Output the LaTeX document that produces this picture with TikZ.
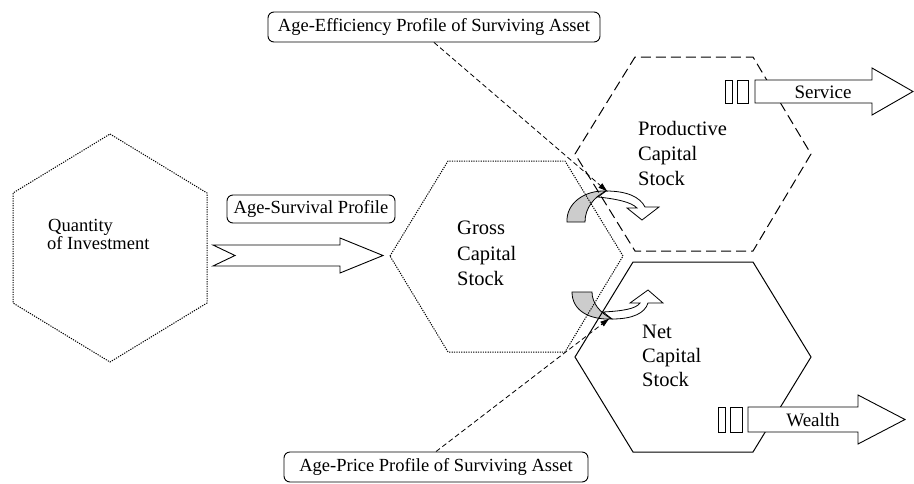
\documentclass[tikz,border=0pt]{standalone}
\usepackage{fontspec}
\setmainfont{Liberation Serif}
\usetikzlibrary{arrows.meta}
\begin{document}
\begin{tikzpicture}[x=1pt,y=-1pt,
  hexdot/.style={line width=1pt, dash pattern=on 1.2pt off 1.2pt},
  hexdash/.style={line width=1pt, dash pattern=on 10pt off 5pt},
  hexsolid/.style={line width=1pt},
  hexlabel/.style={font=\fontsize{20.5}{25}\selectfont, inner sep=0pt, anchor=base west},
  qlabel/.style={font=\fontsize{18.5}{15}\selectfont, inner sep=0pt, anchor=base west},
  profbox/.style={draw, rounded corners=6pt, line width=0.9pt, font=\fontsize{18.5}{20}\selectfont, inner sep=0pt},
  leader/.style={line width=0.8pt, dash pattern=on 5pt off 3pt, -{Latex[length=10pt,width=6pt]}},
  blockarrow/.style={draw, fill=white, line width=0.9pt},
  arrowtext/.style={font=\fontsize{19}{20}\selectfont, inner sep=0pt},
  backface/.style={draw, fill=gray!40, line width=0.8pt},
  frontface/.style={draw, fill=white, line width=0.8pt},
]
\useasboundingbox (0,0) rectangle (914,483);

% curved arrows (drawn first, under the hexagon edges)
\filldraw[frontface] (606,191) .. controls (627,191) and (640,197) .. (645,207)
  -- (659,207) -- (642,220) -- (627,208) -- (637,208)
  .. controls (631,202) and (617,199) .. (598,197) -- cycle;
\filldraw[backface] (567,222) .. controls (566,203) and (585,190) .. (606,191)
  .. controls (594,197) and (585,208) .. (585,222) -- cycle;

\filldraw[frontface] (612,319) .. controls (633,319) and (645,313) .. (648,303)
  -- (663,303) -- (648,290) -- (630,303) -- (640,303)
  .. controls (636,309) and (622,311) .. (603,312) -- cycle;
\filldraw[backface] (572,292) .. controls (572,311) and (590,320) .. (612,319)
  .. controls (600,313) and (592,303) .. (592,292) -- cycle;

% hexagons
\draw[hexdot] (110,134) -- (207,193) -- (207,303) -- (110,362) -- (13,303) -- (13,193) -- cycle;
\draw[hexdot] (390,256) -- (448,161) -- (565,161) -- (623,256) -- (565,352) -- (448,352) -- cycle;
\draw[hexdash] (575,154) -- (635,57) -- (753,57) -- (811,154) -- (753,251) -- (635,251) -- cycle;
\draw[hexsolid] (575,357) -- (633,262) -- (753,262) -- (811,357) -- (753,452) -- (633,452) -- cycle;

% hexagon labels
\node[qlabel] (q1) at (48,231) {Quantity};
\node[qlabel] (q2) at (47,249) {of Investment};
\node[hexlabel] (g1) at (457,234) {Gross};
\node[hexlabel] (g2) at (457,260) {Capital};
\node[hexlabel] (g3) at (457,285) {Stock};
\node[hexlabel] (p1) at (638,135) {Productive};
\node[hexlabel] (p2) at (638,160) {Capital};
\node[hexlabel] (p3) at (638,185) {Stock};
\node[hexlabel] (n1) at (642,338) {Net};
\node[hexlabel] (n2) at (642,362) {Capital};
\node[hexlabel] (n3) at (642,386) {Stock};

% Age-Survival block arrow
\draw[blockarrow] (213,245) -- (340,245) -- (340,238) -- (383,255.5) -- (340,273)
  -- (340,266) -- (213,266) -- (235,255.5) -- cycle;

% Service arrow
\draw[blockarrow] (725,80) rectangle (732,103);
\draw[blockarrow] (737,80) rectangle (748,103);
\draw[blockarrow] (755,80) -- (872,80) -- (872,68) -- (913,91.5) -- (872,115) -- (872,103) -- (755,103) -- cycle;
\node[arrowtext] (service) at (823,92) {Service};

% Wealth arrow
\draw[blockarrow] (718,407) rectangle (725,432);
\draw[blockarrow] (730,407) rectangle (742,432);
\draw[blockarrow] (748,407) -- (858,407) -- (858,395) -- (905,419.5) -- (858,444) -- (858,432) -- (748,432) -- cycle;
\node[arrowtext] (wealth) at (813,420) {Wealth};

% profile boxes
\node[profbox, minimum width=332pt, minimum height=30pt] (effbox) at (434,27) {Age-Efficiency Profile of Surviving Asset};
\node[profbox, minimum width=168pt, minimum height=28pt] (survbox) at (311,209) {Age-Survival Profile};
\node[profbox, minimum width=304pt, minimum height=30pt] (pricebox) at (436,467) {Age-Price Profile of Surviving Asset};

% leader lines
\coordinate (efftip) at (608,192);
\coordinate (pricetip) at (610,318);
\draw[leader] (effbox.south) -- (efftip);
\draw[leader] (pricebox.north) -- (pricetip);
\end{tikzpicture}
\end{document}
